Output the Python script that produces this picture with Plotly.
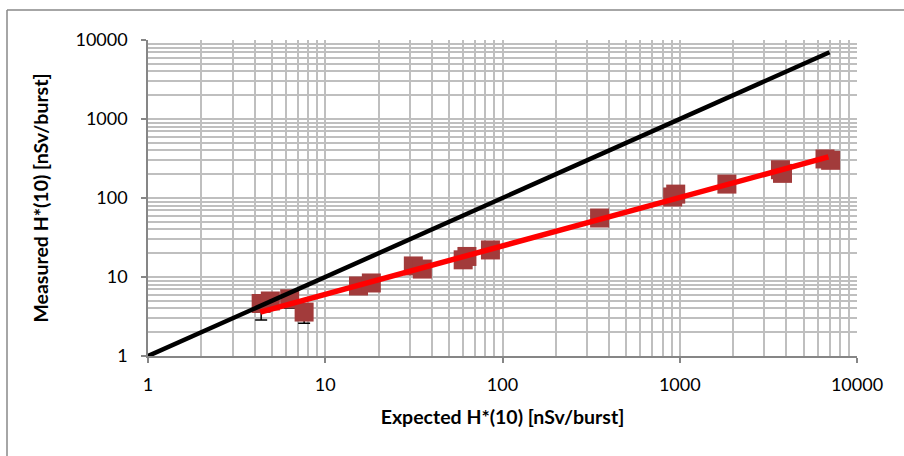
import plotly.graph_objects as go

# ---- data ----
expected = [4.35, 4.9, 6.3, 7.6, 15.4, 18.2, 31.4, 35.3, 60, 63, 85.5, 353, 912, 949, 1845, 3700, 3800, 6600, 7100]
measured = [4.62, 4.97, 5.3, 3.6, 7.7, 8.4, 13.8, 12.6, 16.5, 18.2, 22, 55.8, 103, 112, 150, 228, 205, 312, 300]
err_plus = [0.9, 0.5, 0.8, 0.6, 0.9, 0.9, 1.5, 1.4, 1.8, 2.0, 2.4, 6.0, 11, 12, 16, 24, 22, 33, 32]
err_minus = [1.76, 0.6, 1.25, 1.0, 0.9, 0.9, 1.5, 1.4, 1.8, 2.0, 2.4, 6.0, 11, 12, 16, 24, 22, 33, 32]

ref_x = [1, 7000]          # y = x reference line
ref_y = [1, 7000]
fit_x = [4.3, 6900]        # power-law fit of measured vs expected
fit_y = [3.6, 331]

x_title = "Expected H*(10) [nSv/burst]"
y_title = "Measured H*(10) [nSv/burst]"
tick_vals = [1, 10, 100, 1000, 10000]
tick_text = ["1", "10", "100", "1000", "10000"]

FONT = "Lato"
GRID = "#BFBFBF"
AXIS = "#868686"

fig = go.Figure()

fig.add_trace(go.Scatter(
    x=expected, y=measured, mode="markers",
    marker=dict(symbol="square", size=19, color="#A23B3B"),
    error_y=dict(type="data", symmetric=False, array=err_plus, arrayminus=err_minus,
                 visible=True, color="black", thickness=1.5, width=6),
    showlegend=False,
))
fig.add_trace(go.Scatter(
    x=ref_x, y=ref_y, mode="lines",
    line=dict(color="black", width=4.5), showlegend=False,
))
fig.add_trace(go.Scatter(
    x=fit_x, y=fit_y, mode="lines",
    line=dict(color="#FF0000", width=5.5), showlegend=False,
))

axis_common = dict(
    type="log", range=[0, 4], tickvals=tick_vals, ticktext=tick_text,
    showgrid=True, gridcolor=GRID, gridwidth=1.5,
    minor=dict(dtick="D1", showgrid=True, gridcolor=GRID, gridwidth=1.5, ticks=""),
    showline=True, linecolor=AXIS, linewidth=1.5,
    ticks="outside", ticklen=5, tickcolor=AXIS, tickwidth=1.5,
    tickfont=dict(family=FONT, size=18, color="black"),
    zeroline=False,
)

fig.update_xaxes(**axis_common,
                 title=dict(text="<b>" + x_title + "</b>", standoff=16,
                            font=dict(family=FONT, size=19.5, color="black")),
                 ticklabelstandoff=7)
fig.update_yaxes(**axis_common,
                 title=dict(text="<b>" + y_title + "</b>", standoff=22,
                            font=dict(family=FONT, size=19.5, color="black")),
                 ticklabelstandoff=10)

# chart frame (outer border)
fig.add_shape(type="line", xref="paper", yref="paper",
              x0=(7 - 148) / 709, x1=(7 - 148) / 709,
              y0=(356 - 10) / 316, y1=(356 - 470) / 316,
              line=dict(color="#898989", width=1.5))
fig.add_shape(type="line", xref="paper", yref="paper",
              x0=(7 - 148) / 709, x1=(910 - 148) / 709,
              y0=(356 - 10) / 316, y1=(356 - 10) / 316,
              line=dict(color="#898989", width=1.5))

fig.update_layout(
    width=904, height=456,
    margin=dict(l=148, r=47, t=40, b=100, autoexpand=False),
    paper_bgcolor="white", plot_bgcolor="white",
    font=dict(family=FONT, color="black"),
)

fig.write_html("out.html")
